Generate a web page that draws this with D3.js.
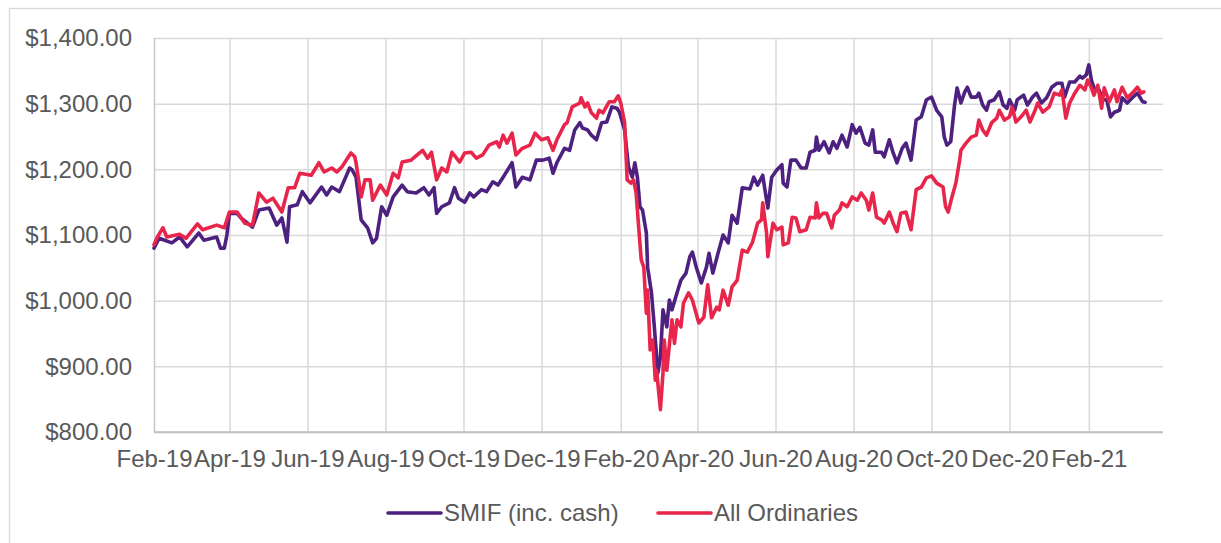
<!DOCTYPE html>
<html>
<head>
<meta charset="utf-8">
<script src="https://cdn.jsdelivr.net/npm/d3@7"></script>
<style>
  html, body { margin: 0; padding: 0; background: #ffffff; }
  svg { display: block; }
  text { font-family: "Liberation Sans", Arial, sans-serif; }
</style>
</head>
<body>
<svg id="chart" width="1221" height="543"></svg>
<script>
// ---------------- DATA ----------------
const xTickLabels = ["Feb-19","Apr-19","Jun-19","Aug-19","Oct-19","Dec-19","Feb-20","Apr-20","Jun-20","Aug-20","Oct-20","Dec-20","Feb-21"];
const yTickValues = [800, 900, 1000, 1100, 1200, 1300, 1400];
const seriesNames = ["SMIF (inc. cash)", "All Ordinaries"];
const seriesColors = ["#4d2180", "#e8254a"];

const smifDates = ["2019-02-01","2019-02-05","2019-02-15","2019-02-21","2019-02-27","2019-03-08","2019-03-12","2019-03-22","2019-03-25","2019-03-28","2019-03-30","2019-04-01","2019-04-07","2019-04-10","2019-04-19","2019-04-24","2019-05-02","2019-05-08","2019-05-12","2019-05-16","2019-05-18","2019-05-24","2019-05-28","2019-06-03","2019-06-12","2019-06-16","2019-06-20","2019-06-26","2019-07-04","2019-07-06","2019-07-09","2019-07-13","2019-07-18","2019-07-22","2019-07-25","2019-07-29","2019-08-02","2019-08-07","2019-08-14","2019-08-18","2019-08-25","2019-08-31","2019-09-04","2019-09-08","2019-09-10","2019-09-14","2019-09-20","2019-09-24","2019-09-27","2019-10-02","2019-10-06","2019-10-09","2019-10-15","2019-10-19","2019-10-24","2019-10-28","2019-11-01","2019-11-08","2019-11-11","2019-11-16","2019-11-22","2019-11-27","2019-12-02","2019-12-07","2019-12-10","2019-12-13","2019-12-19","2019-12-23","2019-12-27","2019-12-31","2020-01-02","2020-01-06","2020-01-09","2020-01-13","2020-01-17","2020-01-21","2020-01-25","2020-01-29","2020-01-31","2020-02-04","2020-02-07","2020-02-10","2020-02-12","2020-02-14","2020-02-16","2020-02-18","2020-02-21","2020-02-22","2020-02-25","2020-02-27","2020-03-01","2020-03-03","2020-03-05","2020-03-08","2020-03-10","2020-03-12","2020-03-16","2020-03-19","2020-03-23","2020-03-26","2020-03-28","2020-03-31","2020-04-04","2020-04-08","2020-04-10","2020-04-13","2020-04-17","2020-04-21","2020-04-25","2020-04-28","2020-05-02","2020-05-06","2020-05-12","2020-05-15","2020-05-18","2020-05-22","2020-05-25","2020-05-26","2020-05-29","2020-06-02","2020-06-06","2020-06-07","2020-06-10","2020-06-13","2020-06-17","2020-06-21","2020-06-25","2020-06-28","2020-07-02","2020-07-03","2020-07-05","2020-07-09","2020-07-13","2020-07-16","2020-07-19","2020-07-23","2020-07-27","2020-07-31","2020-08-03","2020-08-06","2020-08-10","2020-08-13","2020-08-16","2020-08-18","2020-08-23","2020-08-25","2020-08-29","2020-09-01","2020-09-04","2020-09-08","2020-09-11","2020-09-15","2020-09-19","2020-09-23","2020-09-27","2020-10-01","2020-10-05","2020-10-09","2020-10-11","2020-10-13","2020-10-16","2020-10-19","2020-10-21","2020-10-24","2020-10-27","2020-10-29","2020-11-01","2020-11-05","2020-11-07","2020-11-10","2020-11-13","2020-11-15","2020-11-19","2020-11-23","2020-11-26","2020-11-29","2020-12-01","2020-12-05","2020-12-07","2020-12-12","2020-12-15","2020-12-19","2020-12-22","2020-12-26","2020-12-30","2021-01-03","2021-01-07","2021-01-11","2021-01-13","2021-01-17","2021-01-21","2021-01-25","2021-01-27","2021-01-30","2021-02-01","2021-02-03","2021-02-05","2021-02-09","2021-02-12","2021-02-15","2021-02-18","2021-02-21","2021-02-25","2021-02-27","2021-03-03","2021-03-07","2021-03-11","2021-03-15","2021-03-17"];
const smifValues = [1080,1095,1088,1097,1082,1103,1092,1097,1080,1080,1100,1133,1133,1126,1112,1138,1141,1115,1126,1089,1143,1146,1166,1149,1173,1161,1173,1166,1202,1199,1188,1123,1111,1088,1095,1143,1130,1158,1176,1166,1164,1172,1161,1172,1133,1143,1149,1172,1156,1150,1164,1158,1169,1166,1181,1176,1188,1210,1173,1188,1184,1214,1214,1217,1194,1210,1232,1229,1260,1271,1263,1260,1252,1245,1271,1272,1295,1293,1287,1260,1204,1188,1210,1188,1143,1138,1103,1051,1012,966,890,914,986,960,1001,986,1012,1031,1042,1067,1074,1051,1027,1051,1072,1042,1072,1100,1088,1130,1118,1172,1170,1188,1176,1191,1153,1141,1188,1199,1207,1179,1173,1214,1214,1202,1202,1226,1229,1249,1229,1242,1225,1242,1232,1252,1234,1268,1255,1264,1240,1237,1260,1226,1226,1219,1245,1225,1210,1232,1240,1214,1275,1280,1306,1310,1290,1280,1249,1237,1242,1298,1324,1301,1318,1325,1310,1310,1316,1298,1290,1303,1306,1318,1298,1293,1306,1290,1306,1313,1298,1310,1316,1301,1309,1325,1331,1331,1310,1333,1333,1342,1339,1344,1359,1336,1324,1321,1306,1306,1280,1287,1290,1309,1301,1309,1316,1303,1302];

const ordDates = ["2019-02-01","2019-02-04","2019-02-08","2019-02-11","2019-02-21","2019-02-26","2019-03-07","2019-03-11","2019-03-22","2019-03-28","2019-04-01","2019-04-07","2019-04-13","2019-04-19","2019-04-24","2019-04-30","2019-05-05","2019-05-12","2019-05-17","2019-05-22","2019-05-26","2019-06-04","2019-06-10","2019-06-14","2019-06-20","2019-06-24","2019-06-28","2019-07-05","2019-07-08","2019-07-09","2019-07-13","2019-07-16","2019-07-20","2019-07-22","2019-07-28","2019-08-02","2019-08-07","2019-08-11","2019-08-14","2019-08-21","2019-08-30","2019-09-03","2019-09-06","2019-09-10","2019-09-14","2019-09-18","2019-09-22","2019-09-28","2019-10-02","2019-10-07","2019-10-11","2019-10-16","2019-10-21","2019-10-27","2019-10-29","2019-11-01","2019-11-04","2019-11-08","2019-11-11","2019-11-16","2019-11-22","2019-11-26","2019-12-01","2019-12-06","2019-12-10","2019-12-13","2019-12-19","2019-12-21","2019-12-25","2019-12-31","2020-01-01","2020-01-04","2020-01-06","2020-01-09","2020-01-13","2020-01-15","2020-01-18","2020-01-23","2020-01-27","2020-01-30","2020-02-01","2020-02-04","2020-02-06","2020-02-09","2020-02-11","2020-02-13","2020-02-15","2020-02-17","2020-02-19","2020-02-21","2020-02-22","2020-02-24","2020-02-26","2020-02-28","2020-02-29","2020-03-03","2020-03-05","2020-03-06","2020-03-08","2020-03-12","2020-03-14","2020-03-16","2020-03-19","2020-03-21","2020-03-25","2020-03-28","2020-04-02","2020-04-06","2020-04-09","2020-04-12","2020-04-16","2020-04-18","2020-04-21","2020-04-25","2020-04-28","2020-05-02","2020-05-06","2020-05-10","2020-05-14","2020-05-18","2020-05-21","2020-05-22","2020-05-25","2020-05-26","2020-05-30","2020-06-02","2020-06-06","2020-06-07","2020-06-11","2020-06-14","2020-06-17","2020-06-20","2020-06-25","2020-06-28","2020-07-02","2020-07-03","2020-07-05","2020-07-08","2020-07-11","2020-07-15","2020-07-17","2020-07-21","2020-07-23","2020-07-27","2020-07-31","2020-08-04","2020-08-07","2020-08-11","2020-08-13","2020-08-16","2020-08-19","2020-08-23","2020-08-25","2020-08-29","2020-09-01","2020-09-04","2020-09-07","2020-09-11","2020-09-15","2020-09-19","2020-09-23","2020-09-27","2020-10-01","2020-10-05","2020-10-10","2020-10-12","2020-10-14","2020-10-17","2020-10-20","2020-10-23","2020-10-24","2020-10-28","2020-11-01","2020-11-05","2020-11-07","2020-11-10","2020-11-13","2020-11-17","2020-11-21","2020-11-23","2020-11-27","2020-12-01","2020-12-03","2020-12-06","2020-12-10","2020-12-14","2020-12-17","2020-12-21","2020-12-23","2020-12-27","2021-01-01","2021-01-05","2021-01-09","2021-01-11","2021-01-14","2021-01-17","2021-01-21","2021-01-25","2021-01-29","2021-01-31","2021-02-03","2021-02-05","2021-02-08","2021-02-11","2021-02-13","2021-02-17","2021-02-21","2021-02-23","2021-02-27","2021-03-03","2021-03-07","2021-03-11","2021-03-14","2021-03-16"];
const ordValues = [1085,1098,1111,1097,1101,1095,1117,1108,1115,1111,1135,1135,1118,1115,1164,1150,1156,1135,1172,1172,1194,1191,1210,1196,1202,1196,1204,1225,1219,1210,1158,1184,1184,1153,1176,1161,1194,1187,1211,1214,1229,1217,1226,1184,1202,1196,1226,1211,1225,1226,1217,1222,1237,1242,1234,1252,1240,1255,1222,1232,1237,1255,1245,1248,1229,1245,1268,1271,1295,1301,1309,1295,1301,1286,1278,1290,1286,1303,1303,1312,1301,1271,1184,1179,1184,1164,1112,1062,1051,981,1016,925,940,879,894,834,890,940,894,971,935,971,960,996,1012,1001,966,975,1024,974,990,986,1016,993,1021,1031,1077,1074,1089,1118,1123,1149,1103,1067,1118,1108,1112,1085,1088,1127,1126,1105,1108,1127,1126,1149,1126,1133,1133,1111,1130,1138,1149,1143,1158,1153,1164,1153,1138,1164,1127,1123,1118,1135,1118,1105,1133,1135,1108,1169,1173,1187,1190,1179,1173,1143,1135,1158,1179,1214,1229,1240,1249,1252,1275,1260,1252,1271,1278,1290,1275,1280,1295,1272,1280,1290,1272,1290,1301,1287,1295,1316,1313,1321,1278,1301,1316,1328,1321,1336,1324,1313,1328,1293,1324,1303,1321,1303,1325,1309,1316,1325,1316,1318];

// ---------------- CHART ----------------
const parseDate = d3.timeParse("%Y-%m-%d");
const parseTick = d3.timeParse("%b-%y");
const series = [
  { name: seriesNames[0], color: seriesColors[0], data: smifDates.map((d, i) => ({ date: parseDate(d), value: smifValues[i] })) },
  { name: seriesNames[1], color: seriesColors[1], data: ordDates.map((d, i) => ({ date: parseDate(d), value: ordValues[i] })) }
];

const svg = d3.select("#chart");
const textColor = "#595959";
const gridColor = "#d9d9d9";
const fontSize = 24;

// outer chart frame
svg.append("rect")
  .attr("x", 9.5).attr("y", 8.5)
  .attr("width", 1300).attr("height", 700)
  .attr("fill", "none").attr("stroke", gridColor).attr("stroke-width", 1.3);

const plot = { left: 154, right: 1163, top: 38, bottom: 432 };

const x = d3.scaleTime()
  .domain([parseDate("2019-02-01"), parseDate("2021-03-31")])
  .range([plot.left, plot.right]);
const y = d3.scaleLinear()
  .domain([800, 1400])
  .range([plot.bottom, plot.top]);

const xTicks = xTickLabels.map(parseTick);
const fmtTick = d3.timeFormat("%b-%y");

// Y axis with horizontal gridlines
const gy = svg.append("g")
  .attr("transform", `translate(${plot.left},0)`)
  .call(d3.axisLeft(y)
    .tickValues(yTickValues)
    .tickFormat(d3.format("$,.2f"))
    .tickSize(-(plot.right - plot.left))
    .tickPadding(22));
gy.select(".domain").remove();
gy.selectAll(".tick line")
  .attr("stroke", d => d === 800 ? "#bfbfbf" : gridColor)
  .attr("stroke-width", 1.5);
gy.selectAll(".tick text")
  .attr("fill", textColor)
  .style("font-size", fontSize + "px")
  .style("font-family", "'Liberation Sans', Arial, sans-serif");

// X axis with vertical gridlines
const gx = svg.append("g")
  .attr("transform", `translate(0,${plot.bottom})`)
  .call(d3.axisBottom(x)
    .tickValues(xTicks)
    .tickFormat(fmtTick)
    .tickSize(-(plot.bottom - plot.top))
    .tickPadding(18));
gx.select(".domain").remove();
gx.selectAll(".tick line")
  .attr("stroke", (d, i) => i === 0 ? "#c8c8c8" : gridColor)
  .attr("stroke-width", 1.5);
gx.selectAll(".tick text")
  .attr("fill", textColor)
  .style("font-size", fontSize + "px")
  .style("font-family", "'Liberation Sans', Arial, sans-serif");

// bottom axis line drawn on top of gridlines
svg.append("line")
  .attr("x1", plot.left).attr("x2", plot.right)
  .attr("y1", y(800)).attr("y2", y(800))
  .attr("stroke", "#bfbfbf").attr("stroke-width", 1.5);

// lines
const line = d3.line()
  .x(d => x(d.date))
  .y(d => y(d.value));

svg.append("g").selectAll("path")
  .data(series)
  .join("path")
  .attr("d", d => line(d.data))
  .attr("fill", "none")
  .attr("stroke", d => d.color)
  .attr("stroke-width", 3.6)
  .attr("stroke-linejoin", "round")
  .attr("stroke-linecap", "round");

// legend
const legendY = 513;
const legendItems = [
  { name: seriesNames[0], color: seriesColors[0], x: 388 },
  { name: seriesNames[1], color: seriesColors[1], x: 658 }
];
const lg = svg.append("g");
legendItems.forEach(item => {
  lg.append("line")
    .attr("x1", item.x).attr("x2", item.x + 53)
    .attr("y1", legendY).attr("y2", legendY)
    .attr("stroke", item.color).attr("stroke-width", 3.6)
    .attr("stroke-linecap", "round");
  lg.append("text")
    .attr("x", item.x + 56).attr("y", legendY)
    .attr("dy", "0.35em")
    .attr("fill", textColor)
    .style("font-size", fontSize + "px")
    .text(item.name);
});
</script>
</body>
</html>
